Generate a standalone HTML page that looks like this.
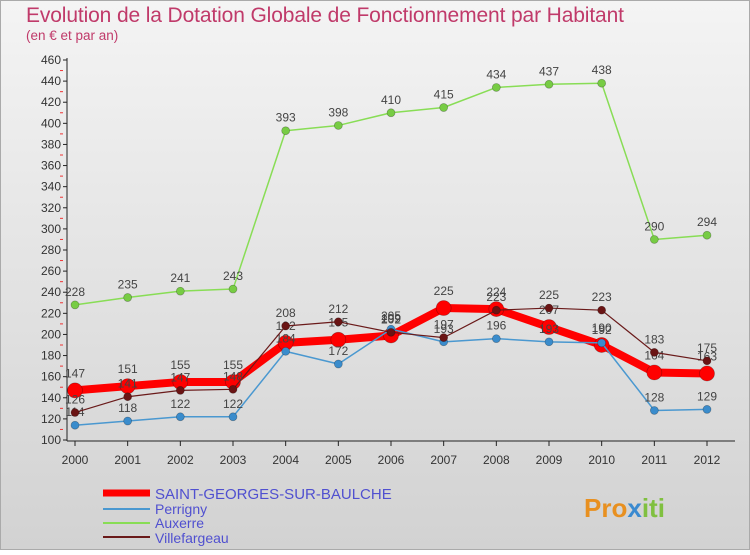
<!DOCTYPE html>
<html><head><meta charset="utf-8"><style>
body{margin:0}
svg text{font-family:"Liberation Sans",sans-serif}
</style></head><body>
<svg id="c" width="750" height="550" xmlns="http://www.w3.org/2000/svg">
<defs><linearGradient id="bg" x1="0" y1="0" x2="0" y2="1"><stop offset="0" stop-color="#f4f4f4"/><stop offset="1" stop-color="#d2d2d2"/></linearGradient></defs>
<rect x="0.5" y="0.5" width="749" height="549" fill="url(#bg)" stroke="#aaa"/>
<text x="26" y="22" font-size="21" fill="#c03a6a" textLength="598">Evolution de la Dotation Globale de Fonctionnement par Habitant</text>
<text x="26" y="40" font-size="13.5" fill="#c03a6a">(en € et par an)</text>
<g id="axes"></g><g id="series"></g>
<g>
<line x1="103" y1="493" x2="150" y2="493" stroke="#f00" stroke-width="7"/>
<text x="155" y="499" font-size="15" fill="#5050d0">SAINT-GEORGES-SUR-BAULCHE</text>
<line x1="103" y1="509" x2="150" y2="509" stroke="#4a98d0" stroke-width="2"/>
<text x="155" y="514" font-size="14" fill="#5050d0">Perrigny</text>
<line x1="103" y1="523" x2="150" y2="523" stroke="#88dd55" stroke-width="2"/>
<text x="155" y="528" font-size="14" fill="#5050d0">Auxerre</text>
<line x1="103" y1="537" x2="150" y2="537" stroke="#6a1a1a" stroke-width="2"/>
<text x="155" y="543" font-size="14" fill="#5050d0">Villefargeau</text>
</g>
<text x="584" y="517" font-size="26" font-weight="bold" fill="#e89020">Pro<tspan fill="#3a8ad0">x</tspan><tspan fill="#80c040">iti</tspan></text>
</svg>
<script>
const years=[2000,2001,2002,2003,2004,2005,2006,2007,2008,2009,2010,2011,2012];
const yTicks=[100,120,140,160,180,200,220,240,260,280,300,320,340,360,380,400,420,440,460];
const mainVals=[147,151,155,155,192,195,199,225,224,207,190,164,163];
const perrignyVals=[114,118,122,122,184,172,205,193,196,193,192,128,129];
const auxerreVals=[228,235,241,243,393,398,410,415,434,437,438,290,294];
const villeVals=[126,141,147,148,208,212,202,197,223,225,223,183,175];
const NS="http://www.w3.org/2000/svg";
const xs=i=>75+i*(707-75)/(years.length-1);
const ys=v=>440-(v-100)*(380/360);
function mk(t,a,p){const e=document.createElementNS(NS,t);for(const k in a)e.setAttribute(k,a[k]);p.appendChild(e);return e;}
const ax=document.getElementById('axes');
const yl=mk('line',{x1:67,y1:58,x2:67,y2:441,stroke:'#222'},ax);


const xl=mk('line',{x1:67,y1:441,x2:735,y2:441,stroke:'#222'},ax);


yTicks.forEach((v,k)=>{
  mk('line',{x1:63,y1:ys(v),x2:67,y2:ys(v),stroke:'#222'},ax);
  if(k<yTicks.length-1) mk('line',{x1:60,y1:ys(v+10),x2:63,y2:ys(v+10),stroke:'#e33'},ax);
  const t=mk('text',{x:61,y:ys(v)+4,'font-size':12,'text-anchor':'end',fill:'#333'},ax);
  t.textContent=v;
  
  
});
years.forEach((y,i)=>{
  mk('line',{x1:xs(i),y1:441,x2:xs(i),y2:446,stroke:'#222'},ax);
  const t=mk('text',{x:xs(i),y:464,'font-size':12,'text-anchor':'middle',fill:'#333'},ax);
  t.textContent=y;
  
  
});
const sg=document.getElementById('series');
function series(vals,color,w,r,name,dot,off){
  const g=mk('g',{},sg);
  
  
  const pl=mk('polyline',{points:vals.map((v,i)=>xs(i)+','+ys(v)).join(' '),fill:'none',stroke:color,'stroke-width':w,'stroke-linejoin':'round'},g);
  
  
  vals.forEach((v,i)=>{
    const c=mk('circle',{cx:xs(i),cy:ys(v),r:r,fill:dot,stroke:'rgba(0,0,0,0.3)','stroke-width':0.7},g);
    
    
    const t=mk('text',{x:xs(i),y:ys(v)-off,'font-size':12,'text-anchor':'middle',fill:'#444'},g);
    t.textContent=v;
    
    
  });
}
series(auxerreVals,'#88dd55',1.5,4,'auxerre','#77cc44',9);
series(mainVals,'#f00',8,7.5,'main','#f00',13);
series(perrignyVals,'#4a98d0',1.5,4,'perrigny','#3a8ccc',9);
series(villeVals,'#6a1a1a',1.2,4,'villefargeau','#6a1414',9);
</script>
</body></html>
